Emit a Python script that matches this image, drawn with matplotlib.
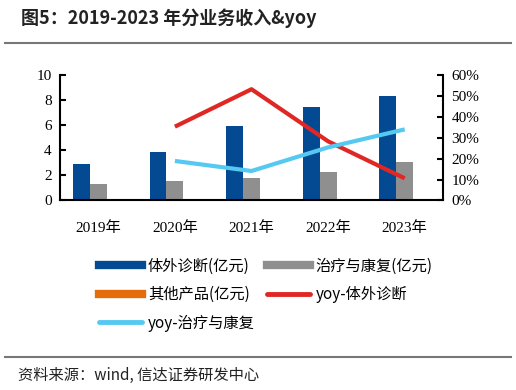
import numpy as np
import matplotlib.pyplot as plt
from matplotlib.lines import Line2D

plt.rcParams['font.family'] = ['Liberation Serif', 'Noto Sans CJK SC']

# 2019-2023 revenue by business (亿元) and yoy growth
years = ["2019年", "2020年", "2021年", "2022年", "2023年"]
ivd = [2.88, 3.87, 5.92, 7.47, 8.30]
rehab = [1.28, 1.55, 1.79, 2.24, 3.04]
other = [0.0, 0.0, 0.0, 0.0, 0.05]
yoy_years = ["2020年", "2021年", "2022年", "2023年"]
yoy_ivd = [35.3, 53.2, 28.3, 10.6]
yoy_rehab = [18.9, 14.1, 25.4, 34.0]

c_blue = "#034a92"
c_gray = "#8f8f8f"
c_orange = "#e46c0a"
c_red = "#e02724"
c_light = "#55c9f2"

fig = plt.figure(figsize=(5.16, 3.9), dpi=100)
ax = fig.add_axes([0.1163, 0.4859, 0.7422, 0.3218])
ax2 = ax.twinx()

x = np.arange(len(years)) + 0.5
w = 0.22
ax.bar(x - w, ivd, w, color=c_blue)
ax.bar(x, rehab, w, color=c_gray)
ax.bar(x + w, other, w, color=c_orange)

xi = [years.index(y) + 0.5 for y in yoy_years]
ax2.plot(xi, yoy_ivd, color=c_red, lw=3, solid_capstyle="butt")
ax2.plot(xi, yoy_rehab, color=c_light, lw=3, solid_capstyle="butt")

ax.set_xlim(0, 5)
ax.set_ylim(0, 10)
ax2.set_ylim(0, 60)
ax.set_yticks(range(0, 11, 2))
ax2.set_yticks(range(0, 61, 10))
ax2.set_yticklabels([f"{v}%" for v in range(0, 61, 10)])
ax.set_xticks(x)
ax.set_xticklabels(years)

for a in (ax, ax2):
    a.spines["top"].set_visible(False)
    for s in ("left", "right", "bottom"):
        a.spines[s].set_linewidth(1.5)
ax.spines["right"].set_visible(False)
ax2.spines["left"].set_visible(False)
ax2.spines["bottom"].set_visible(False)
ax.tick_params(axis="y", direction="in", length=4, width=1.5, labelsize=11, pad=6)
ax2.tick_params(axis="y", direction="in", length=4, width=1.5, labelsize=11, pad=6)
ax.tick_params(axis="x", length=0, labelsize=11, pad=15)

handles = [
    Line2D([], [], color=c_blue, lw=6),
    Line2D([], [], color=c_orange, lw=6),
    Line2D([], [], color=c_light, lw=3.5, solid_capstyle="round"),
    Line2D([], [], color=c_gray, lw=6),
    Line2D([], [], color=c_red, lw=3.5, solid_capstyle="round"),
]
labels = ["体外诊断(亿元)", "其他产品(亿元)", "yoy-治疗与康复", "治疗与康复(亿元)", "yoy-体外诊断"]
fig.legend(handles, labels, ncol=2, loc="upper left", bbox_to_anchor=(0.165, 0.375),
           frameon=False, handlelength=2.8, handletextpad=0.4, columnspacing=0.8,
           labelspacing=0.75, prop={"family": ["Noto Sans CJK SC"], "size": 11})

fig.text(0.04, 0.953, "图5：2019-2023 年分业务收入&yoy", fontsize=13, fontweight="bold",
         family=["Noto Sans CJK SC"], va="center", color="#222222")
fig.add_artist(Line2D([0.01, 0.99], [0.89, 0.89], color="#777777", lw=1.5))
fig.add_artist(Line2D([0.01, 0.99], [0.085, 0.085], color="#777777", lw=1.5))
fig.text(0.035, 0.037, "资料来源：wind, 信达证券研发中心", fontsize=11,
         family=["Noto Sans CJK SC"], va="center", color="#222222")

fig.savefig("out.png", dpi=100)
